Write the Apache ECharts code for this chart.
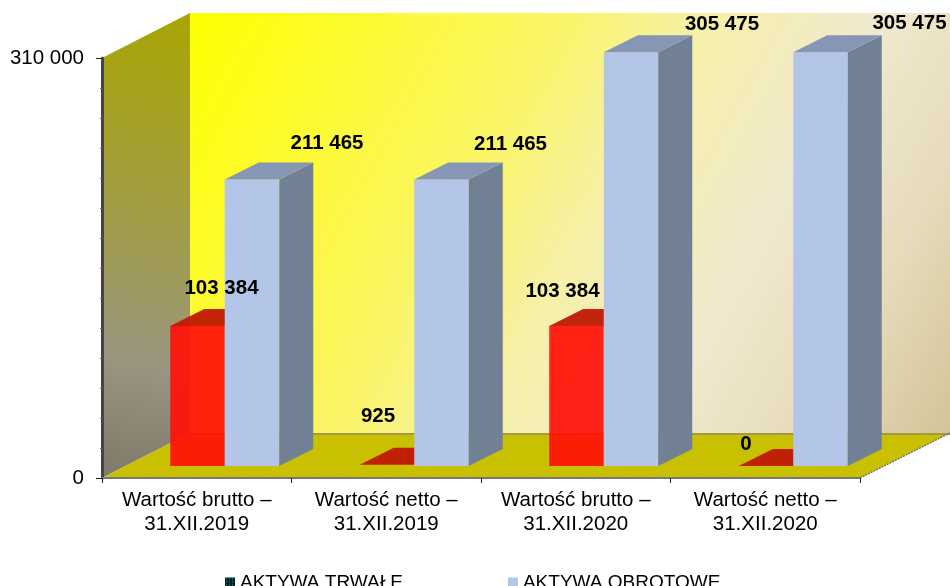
<!DOCTYPE html>
<html>
<head>
<meta charset="utf-8">
<script src="https://cdn.jsdelivr.net/npm/echarts@6/dist/echarts.min.js"></script>
<style>
  html, body { margin: 0; background: #fff; }
  #chart { width: 950px; height: 586px; }
</style>
</head>
<body>
<div id="chart"></div>
<script>
const categories = [
  'Wartość brutto –\n31.XII.2019',
  'Wartość netto –\n31.XII.2019',
  'Wartość brutto –\n31.XII.2020',
  'Wartość netto –\n31.XII.2020',
];
const aktywaTrwale = [103384, 925, 103384, 0];
const aktywaObrotowe = [211465, 211465, 305475, 305475];
const seriesNames = ['AKTYWA TRWAŁE', 'AKTYWA OBROTOWE'];
const yMin = 0;
const yMax = 310000;

// hand placed labels, offset from the top centre of each bar front
const redLabelShift = [[24, -38], [-9, -48], [-14, -35], [-20, -22]];
const blueLabelShift = [[75, -36], [69, -35], [91, -28], [89, -29]];

const FONT = '"Liberation Sans", Arial, sans-serif';
const BAR_W = 54.5;
const BAR_SHIFT_X = 28; // bars stand a bit inside the floor
const BAR_SHIFT_Y = 12;
const BAR_DX = 34;
const BAR_DY = 17;
const WALL_DX = 88;
const WALL_DY = 45;

const fmt = (v) => String(v).replace(/\B(?=(\d{3})+$)/g, ' ');

function poly(points, fill, z2) {
  return { type: 'polygon', z2: z2, shape: { points: points }, style: { fill: fill } };
}

function renderWalls(params) {
  const g = params.coordSys;
  const l = g.x;
  const r = g.x + g.width;
  const t = g.y;
  const b = g.y + g.height;
  const backR = 950;
  return {
    type: 'group',
    children: [
      {
        type: 'polygon',
        shape: { points: [[l + WALL_DX, t - WALL_DY], [backR, t - WALL_DY], [backR, b - WALL_DY], [l + WALL_DX, b - WALL_DY]] },
        style: {
          fill: new echarts.graphic.LinearGradient(0, 0, 1, 1, [
            { offset: 0, color: '#ffff00' },
            { offset: 0.38, color: '#faf568' },
            { offset: 0.52, color: '#f6f0a8' },
            { offset: 0.7, color: '#f1e9cf' },
            { offset: 0.85, color: '#e6dbbb' },
            { offset: 1, color: '#d3c498' },
          ]),
        },
      },
      {
        type: 'polygon',
        shape: { points: [[l, t], [l + WALL_DX, t - WALL_DY], [l + WALL_DX, b - WALL_DY], [l, b]] },
        style: {
          fill: new echarts.graphic.LinearGradient(1, 0, 0, 1, [
            { offset: 0, color: '#a8a500' },
            { offset: 0.5, color: '#a09c50' },
            { offset: 0.75, color: '#999580' },
            { offset: 1, color: '#807868' },
          ]),
        },
      },
      poly([[l, b], [l + WALL_DX, b - WALL_DY], [backR, b - WALL_DY], [r, b]], '#c8c000'),
      {
        type: 'line',
        shape: { x1: l + WALL_DX, y1: b - WALL_DY + 1, x2: backR, y2: b - WALL_DY + 1 },
        style: { stroke: '#a09a40', lineWidth: 2 },
      },
      {
        type: 'line',
        shape: { x1: r, y1: b, x2: backR, y2: b - WALL_DY },
        style: { stroke: '#777', lineWidth: 1.5, lineDash: [2, 1] },
      },
    ],
  };
}

function bar3d(api, offset, colors, labelShift, z2) {
  const idx = api.value(0);
  const val = api.value(1);
  const zero = api.coord([idx, 0]);
  const top = api.coord([idx, val]);
  const x0 = zero[0] + BAR_SHIFT_X + offset;
  const x1 = x0 + BAR_W;
  const yb = zero[1] - BAR_SHIFT_Y;
  const yt = top[1] - BAR_SHIFT_Y;
  const children = [];
  if (yb - yt > 1.5) {
    children.push(poly([[x0, yt], [x1, yt], [x1, yb], [x0, yb]], colors.front, z2));
    children.push(poly([[x1, yt], [x1 + BAR_DX, yt - BAR_DY], [x1 + BAR_DX, yb - BAR_DY], [x1, yb]], colors.side, z2));
  }
  children.push(poly([[x0, yt], [x0 + BAR_DX, yt - BAR_DY], [x1 + BAR_DX, yt - BAR_DY], [x1, yt]], colors.top, z2));
  const shift = labelShift[idx];
  children.push({
    type: 'text',
    z2: 100,
    style: {
      text: fmt(val),
      x: x0 + BAR_W / 2 + shift[0],
      y: yt + shift[1],
      fill: '#000',
      font: 'bold 20.5px ' + FONT,
      align: 'center',
      verticalAlign: 'middle',
    },
  });
  return { type: 'group', children: children };
}

function renderRed(params, api) {
  return bar3d(api, -BAR_W, {
    front: 'rgba(255,16,8,0.92)',
    side: 'rgba(170,20,10,0.9)',
    top: 'rgba(192,24,4,0.95)',
  }, redLabelShift, 1);
}

function renderBlue(params, api) {
  return bar3d(api, 0, {
    front: '#b3c6e7',
    side: '#728096',
    top: '#8696b4',
  }, blueLabelShift, 2);
}

// dotted swatch of the first legend entry
const swatch = document.createElement('canvas');
swatch.width = 3;
swatch.height = 3;
const sctx = swatch.getContext('2d');
sctx.fillStyle = '#06201f';
sctx.fillRect(0, 0, 3, 3);
sctx.fillStyle = '#00b8b8';
sctx.fillRect(1, 1, 1, 1);

const chart = echarts.init(document.getElementById('chart'), null, { renderer: 'canvas' });
chart.setOption({
  animation: false,
  textStyle: { fontFamily: FONT },
  grid: { left: 102, top: 58, width: 758, height: 420 },
  legend: {
    left: 220,
    top: 568,
    itemWidth: 10,
    itemHeight: 10,
    itemGap: 105,
    selectedMode: false,
    textStyle: { fontSize: 19, color: '#000', fontFamily: FONT },
    data: [
      { name: seriesNames[0], icon: 'rect', itemStyle: { color: { image: swatch, repeat: 'repeat' } } },
      { name: seriesNames[1], icon: 'rect', itemStyle: { color: '#b3c6e7' } },
    ],
  },
  xAxis: {
    type: 'category',
    data: categories,
    z: 1,
    axisLine: { lineStyle: { color: '#777', width: 2, type: [2, 1] } },
    axisTick: { show: true, length: 5, lineStyle: { color: '#222' } },
    axisLabel: { color: '#000', fontSize: 20.5, lineHeight: 24, margin: 10, fontFamily: FONT, interval: 0 },
  },
  yAxis: {
    type: 'value',
    min: yMin,
    max: yMax,
    interval: yMax,
    z: 1,
    splitLine: { show: false },
    axisLine: { show: true, lineStyle: { color: '#444', width: 3 } },
    axisTick: { show: true, length: 6, lineStyle: { color: '#222' } },
    minorTick: { show: true, splitNumber: 14, length: 2, lineStyle: { color: '#666' } },
    axisLabel: { color: '#000', fontSize: 20.5, margin: 18, fontFamily: FONT, formatter: fmt },
  },
  series: [
    { type: 'custom', name: 'walls', z: 0, silent: true, data: [[0, 0]], encode: { x: 0, y: 1 }, renderItem: renderWalls },
    {
      type: 'custom',
      name: seriesNames[0],
      z: 2,
      itemStyle: { color: '#ff1008' },
      data: aktywaTrwale.map((v, i) => [i, v]),
      encode: { x: 0, y: 1 },
      renderItem: renderRed,
    },
    {
      type: 'custom',
      name: seriesNames[1],
      z: 2,
      itemStyle: { color: '#b3c6e7' },
      data: aktywaObrotowe.map((v, i) => [i, v]),
      encode: { x: 0, y: 1 },
      renderItem: renderBlue,
    },
  ],
});
</script>
</body>
</html>
